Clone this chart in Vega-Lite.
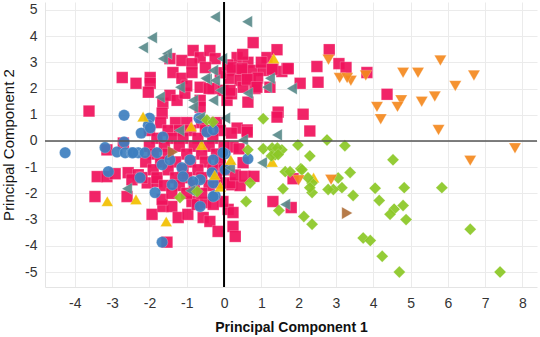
{
  "$schema": "https://vega.github.io/schema/vega-lite/v6.json",
  "width": 492,
  "height": 285,
  "autosize": "none",
  "padding": {"left": 45, "top": 2, "right": 3, "bottom": 50},
  "background": "white",
  "config": {
    "view": {"stroke": null},
    "font": "Liberation Sans",
    "axis": {
      "gridColor": "#ebebeb",
      "gridWidth": 1,
      "domainColor": "#e4e4e4",
      "ticks": false,
      "labelFontSize": 14,
      "labelColor": "#333333",
      "labelFont": "Liberation Sans",
      "titleFont": "Liberation Sans",
      "titleColor": "#111111",
      "labelFlush": false,
      "labelOverlap": false
    }
  },
  "datasets": {
    "pts": [
      {"x":-3.62,"y":1.14,"g":"B"},{"x":-2.73,"y":2.42,"g":"B"},{"x":-2.36,"y":2.2,"g":"B"},{"x":-1.98,"y":2.42,"g":"B"},{"x":-1.98,"y":2.2,"g":"B"},{"x":-2.03,"y":1.86,"g":"B"},{"x":-1.64,"y":1.44,"g":"B"},{"x":-1.45,"y":1.74,"g":"B"},{"x":-1.26,"y":1.55,"g":"B"},{"x":-1.05,"y":1.82,"g":"B"},{"x":-1.37,"y":2.61,"g":"B"},{"x":-1.13,"y":2.39,"g":"B"},{"x":-1.45,"y":3.14,"g":"B"},{"x":-1.13,"y":3.07,"g":"B"},{"x":-0.83,"y":3.45,"g":"B"},{"x":-0.64,"y":3.18,"g":"B"},{"x":-0.38,"y":3.45,"g":"B"},{"x":-0.24,"y":3.14,"g":"B"},{"x":-0.86,"y":2.95,"g":"B"},{"x":-0.86,"y":2.61,"g":"B"},{"x":-0.64,"y":2.05,"g":"B"},{"x":-0.29,"y":2.0,"g":"B"},{"x":-0.03,"y":1.93,"g":"B"},{"x":0.08,"y":1.55,"g":"B"},{"x":-0.64,"y":1.55,"g":"B"},{"x":-0.64,"y":1.29,"g":"B"},{"x":0.78,"y":3.75,"g":"B"},{"x":0.35,"y":3.18,"g":"B"},{"x":0.64,"y":3.0,"g":"B"},{"x":0.24,"y":2.69,"g":"B"},{"x":0.51,"y":2.69,"g":"B"},{"x":0.78,"y":2.69,"g":"B"},{"x":1.05,"y":2.69,"g":"B"},{"x":0.16,"y":2.39,"g":"B"},{"x":0.43,"y":2.31,"g":"B"},{"x":0.7,"y":2.31,"g":"B"},{"x":0.51,"y":2.05,"g":"B"},{"x":0.83,"y":2.0,"g":"B"},{"x":0.64,"y":1.48,"g":"B"},{"x":1.15,"y":3.18,"g":"B"},{"x":0.35,"y":0.49,"g":"B"},{"x":0.62,"y":0.42,"g":"B"},{"x":0.24,"y":-0.23,"g":"B"},{"x":0.51,"y":-0.83,"g":"B"},{"x":-2.7,"y":-0.08,"g":"B"},{"x":-3.14,"y":-0.34,"g":"B"},{"x":-1.66,"y":1.06,"g":"B"},{"x":1.42,"y":3.48,"g":"B"},{"x":2.82,"y":3.48,"g":"B"},{"x":1.31,"y":2.76,"g":"B"},{"x":1.55,"y":2.65,"g":"B"},{"x":1.69,"y":2.76,"g":"B"},{"x":2.49,"y":2.84,"g":"B"},{"x":3.08,"y":2.95,"g":"B"},{"x":3.27,"y":2.8,"g":"B"},{"x":3.83,"y":2.61,"g":"B"},{"x":2.04,"y":2.2,"g":"B"},{"x":2.52,"y":2.24,"g":"B"},{"x":1.23,"y":2.05,"g":"B"},{"x":4.37,"y":1.78,"g":"B"},{"x":1.45,"y":1.1,"g":"B"},{"x":1.42,"y":0.91,"g":"B"},{"x":2.12,"y":1.02,"g":"B"},{"x":2.3,"y":0.38,"g":"B"},{"x":1.85,"y":-1.44,"g":"B"},{"x":1.31,"y":-2.31,"g":"B"},{"x":1.8,"y":-2.54,"g":"B"},{"x":0.62,"y":0.34,"g":"B"},{"x":0.21,"y":-1.67,"g":"B"},{"x":0.43,"y":-1.7,"g":"B"},{"x":0.11,"y":-2.61,"g":"B"},{"x":0.24,"y":-2.73,"g":"B"},{"x":0.24,"y":-3.26,"g":"B"},{"x":0.3,"y":-3.64,"g":"B"},{"x":-3.4,"y":-1.36,"g":"B"},{"x":-3.14,"y":-1.36,"g":"B"},{"x":-2.92,"y":-1.25,"g":"B"},{"x":-3.46,"y":-2.12,"g":"B"},{"x":-2.6,"y":-2.12,"g":"B"},{"x":-2.57,"y":-1.21,"g":"B"},{"x":-2.3,"y":-1.29,"g":"B"},{"x":-2.47,"y":-1.48,"g":"B"},{"x":-1.93,"y":-2.8,"g":"B"},{"x":-1.64,"y":-2.5,"g":"B"},{"x":-1.4,"y":-2.5,"g":"B"},{"x":-1.66,"y":-2.23,"g":"B"},{"x":-1.23,"y":-2.92,"g":"B"},{"x":-0.97,"y":-2.8,"g":"B"},{"x":-1.53,"y":-3.86,"g":"B"},{"x":-0.56,"y":-2.92,"g":"B"},{"x":-0.38,"y":-3.07,"g":"B"},{"x":-0.16,"y":-3.45,"g":"B"},{"x":-0.03,"y":-2.31,"g":"B"},{"x":-0.86,"y":-2.31,"g":"B"},{"x":-0.72,"y":-2.42,"g":"B"},{"x":-0.5,"y":-2.35,"g":"B"},{"x":-0.29,"y":-2.42,"g":"B"},{"x":0.16,"y":-1.6,"g":"B"},{"x":-0.1,"y":-1.6,"g":"B"},{"x":-2.06,"y":-1.6,"g":"B"},{"x":-1.8,"y":-1.55,"g":"B"},
      {"x":-1.7,"y":0.7,"g":"B"},{"x":-1.3,"y":0.7,"g":"B"},{"x":-1.0,"y":0.7,"g":"B"},{"x":-0.6,"y":0.7,"g":"B"},{"x":-0.2,"y":0.7,"g":"B"},
      {"x":-2.0,"y":0.4,"g":"B"},{"x":-1.5,"y":0.4,"g":"B"},{"x":-1.2,"y":0.4,"g":"B"},{"x":-0.9,"y":0.4,"g":"B"},{"x":-0.5,"y":0.4,"g":"B"},{"x":-0.1,"y":0.4,"g":"B"},
      {"x":-1.8,"y":0.1,"g":"B"},{"x":-1.4,"y":0.1,"g":"B"},{"x":-1.1,"y":0.1,"g":"B"},{"x":-0.7,"y":0.1,"g":"B"},{"x":-0.3,"y":0.1,"g":"B"},
      {"x":-2.0,"y":-0.2,"g":"B"},{"x":-1.6,"y":-0.2,"g":"B"},{"x":-1.2,"y":-0.2,"g":"B"},{"x":-0.8,"y":-0.2,"g":"B"},{"x":-0.4,"y":-0.2,"g":"B"},{"x":0.0,"y":-0.2,"g":"B"},
      {"x":-1.9,"y":-0.5,"g":"B"},{"x":-1.5,"y":-0.5,"g":"B"},{"x":-1.0,"y":-0.5,"g":"B"},{"x":-0.6,"y":-0.5,"g":"B"},{"x":-0.2,"y":-0.5,"g":"B"},
      {"x":-2.1,"y":-0.8,"g":"B"},{"x":-1.7,"y":-0.8,"g":"B"},{"x":-1.3,"y":-0.8,"g":"B"},{"x":-0.9,"y":-0.8,"g":"B"},{"x":-0.5,"y":-0.8,"g":"B"},{"x":-0.1,"y":-0.8,"g":"B"},
      {"x":-1.9,"y":-1.1,"g":"B"},{"x":-1.5,"y":-1.1,"g":"B"},{"x":-1.1,"y":-1.1,"g":"B"},{"x":-0.7,"y":-1.1,"g":"B"},{"x":-0.3,"y":-1.1,"g":"B"},{"x":0.0,"y":-1.1,"g":"B"},
      {"x":-2.2,"y":-1.4,"g":"B"},{"x":-1.8,"y":-1.4,"g":"B"},{"x":-1.3,"y":-1.4,"g":"B"},{"x":-1.0,"y":-1.4,"g":"B"},{"x":-0.6,"y":-1.4,"g":"B"},{"x":-0.2,"y":-1.4,"g":"B"},
      {"x":-1.6,"y":-1.7,"g":"B"},{"x":-1.2,"y":-1.7,"g":"B"},{"x":-0.8,"y":-1.7,"g":"B"},{"x":-0.4,"y":-1.7,"g":"B"},
      {"x":-1.4,"y":-2.0,"g":"B"},{"x":-1.0,"y":-2.0,"g":"B"},{"x":-0.6,"y":-2.0,"g":"B"},
      {"x":-0.5,"y":2.8,"g":"B"},{"x":-0.1,"y":2.6,"g":"B"},{"x":0.1,"y":2.9,"g":"B"},{"x":0.9,"y":2.4,"g":"B"},{"x":1.0,"y":3.0,"g":"B"},{"x":0.5,"y":3.3,"g":"B"},{"x":-1.0,"y":2.1,"g":"B"},{"x":-0.4,"y":2.0,"g":"B"},{"x":0.2,"y":1.8,"g":"B"},{"x":0.21,"y":2.8,"g":"B"},{"x":0.48,"y":2.76,"g":"B"},{"x":1.29,"y":2.73,"g":"B"},{"x":1.72,"y":2.76,"g":"B"},{"x":0.62,"y":2.35,"g":"B"},{"x":0.88,"y":2.05,"g":"B"},{"x":0.16,"y":1.93,"g":"B"},{"x":0.3,"y":-1.3,"g":"B"},{"x":0.55,"y":-1.35,"g":"B"},{"x":0.8,"y":-1.35,"g":"B"},{"x":0.4,"y":-0.3,"g":"B"},{"x":0.2,"y":0.3,"g":"B"},
      {"x":-4.26,"y":-0.45,"g":"A"},{"x":-2.68,"y":0.98,"g":"A"},{"x":-2.0,"y":0.87,"g":"A"},{"x":-2.03,"y":0.6,"g":"A"},{"x":-2.22,"y":0.3,"g":"A"},{"x":-2.68,"y":-0.04,"g":"A"},{"x":-3.19,"y":-0.25,"g":"A"},{"x":-2.87,"y":-0.42,"g":"A"},{"x":-2.65,"y":-0.45,"g":"A"},{"x":-2.47,"y":-0.45,"g":"A"},{"x":-2.3,"y":-0.45,"g":"A"},{"x":-1.64,"y":0.15,"g":"A"},{"x":-0.67,"y":0.87,"g":"A"},{"x":0.64,"y":-0.68,"g":"A"},{"x":0.03,"y":-0.49,"g":"A"},{"x":-3.1,"y":-1.17,"g":"A"},{"x":-2.25,"y":-1.4,"g":"A"},{"x":-2.12,"y":-0.45,"g":"A"},{"x":-1.66,"y":-0.91,"g":"A"},{"x":-1.45,"y":-0.72,"g":"A"},{"x":-1.13,"y":-1.02,"g":"A"},{"x":-1.1,"y":-1.36,"g":"A"},{"x":-1.8,"y":-0.45,"g":"A"},{"x":-0.91,"y":-0.72,"g":"A"},{"x":-0.64,"y":-1.48,"g":"A"},{"x":-0.32,"y":-1.21,"g":"A"},{"x":-0.29,"y":-0.72,"g":"A"},{"x":-0.46,"y":0.34,"g":"A"},{"x":-1.39,"y":-1.67,"g":"A"},{"x":-1.85,"y":-1.97,"g":"A"},{"x":-0.64,"y":-2.5,"g":"A"},{"x":-0.03,"y":-0.45,"g":"A"},{"x":0.03,"y":-1.1,"g":"A"},{"x":-0.29,"y":-1.6,"g":"A"},{"x":-0.24,"y":-2.08,"g":"A"},{"x":-0.29,"y":0.42,"g":"A"},{"x":-1.66,"y":-3.86,"g":"A"},{"x":-0.83,"y":-1.55,"g":"A"},{"x":-0.29,"y":-2.12,"g":"A"},{"x":-1.98,"y":0.5,"g":"A"},{"x":-2.44,"y":-0.45,"g":"A"},
      {"x":-0.24,"y":4.73,"g":"D"},{"x":0.62,"y":4.55,"g":"D"},{"x":-1.93,"y":3.94,"g":"D"},{"x":-2.17,"y":3.56,"g":"D"},{"x":-1.53,"y":3.33,"g":"D"},{"x":-1.64,"y":3.14,"g":"D"},{"x":-0.05,"y":3.14,"g":"D"},{"x":-0.29,"y":2.69,"g":"D"},{"x":-0.46,"y":2.35,"g":"D"},{"x":-0.24,"y":2.31,"g":"D"},{"x":-1.18,"y":2.05,"g":"D"},{"x":-1.72,"y":1.67,"g":"D"},{"x":-0.83,"y":1.55,"g":"D"},{"x":-0.83,"y":1.29,"g":"D"},{"x":-0.29,"y":1.55,"g":"D"},{"x":-0.1,"y":1.93,"g":"D"},{"x":0.03,"y":0.87,"g":"D"},{"x":1.15,"y":2.05,"g":"D"},{"x":0.64,"y":1.82,"g":"D"},{"x":0.51,"y":0.04,"g":"D"},{"x":1.02,"y":-0.83,"g":"D"},{"x":1.82,"y":2.0,"g":"D"},{"x":1.42,"y":0.23,"g":"D"},{"x":1.23,"y":2.39,"g":"D"},{"x":1.64,"y":-2.42,"g":"D"},{"x":-2.6,"y":-1.82,"g":"D"},{"x":0.16,"y":-1.02,"g":"D"},{"x":-0.64,"y":0.9,"g":"D"},{"x":-0.5,"y":2.39,"g":"D"},{"x":-1.2,"y":0.4,"g":"D"},{"x":-0.9,"y":-1.9,"g":"D"},
      {"x":-3.13,"y":-2.3,"g":"C"},{"x":-2.36,"y":-2.23,"g":"C"},{"x":-1.55,"y":-3.07,"g":"C"},{"x":-2.17,"y":0.93,"g":"C"},{"x":-0.88,"y":0.55,"g":"C"},{"x":0.18,"y":-0.72,"g":"C"},{"x":1.29,"y":-0.8,"g":"C"},{"x":1.33,"y":3.15,"g":"C"},{"x":2.4,"y":-1.4,"g":"C"},{"x":-0.1,"y":-1.74,"g":"C"},{"x":-0.6,"y":-0.15,"g":"C"},{"x":-0.25,"y":-1.3,"g":"C"},
      {"x":4.53,"y":-0.72,"g":"E"},{"x":5.84,"y":-1.78,"g":"E"},{"x":6.6,"y":-3.37,"g":"E"},{"x":7.4,"y":-5.0,"g":"E"},{"x":4.7,"y":-5.0,"g":"E"},{"x":4.24,"y":-4.4,"g":"E"},{"x":3.73,"y":-3.7,"g":"E"},{"x":3.92,"y":-3.8,"g":"E"},{"x":4.88,"y":-3.0,"g":"E"},{"x":4.8,"y":-2.46,"g":"E"},{"x":4.56,"y":-2.6,"g":"E"},{"x":4.45,"y":-2.8,"g":"E"},{"x":4.16,"y":-2.27,"g":"E"},{"x":4.05,"y":-1.8,"g":"E"},{"x":4.83,"y":-1.78,"g":"E"},{"x":3.46,"y":-2.08,"g":"E"},{"x":3.38,"y":-1.2,"g":"E"},{"x":3.06,"y":-1.41,"g":"E"},{"x":3.16,"y":-1.78,"g":"E"},{"x":2.93,"y":-1.85,"g":"E"},{"x":2.79,"y":-1.85,"g":"E"},{"x":2.36,"y":-1.6,"g":"E"},{"x":2.36,"y":-1.97,"g":"E"},{"x":2.3,"y":-1.78,"g":"E"},{"x":2.25,"y":-1.4,"g":"E"},{"x":2.06,"y":-1.06,"g":"E"},{"x":1.64,"y":-1.17,"g":"E"},{"x":1.77,"y":-1.17,"g":"E"},{"x":1.58,"y":-1.82,"g":"E"},{"x":1.47,"y":-2.65,"g":"E"},{"x":2.14,"y":-2.88,"g":"E"},{"x":2.36,"y":-3.18,"g":"E"},{"x":2.3,"y":-0.57,"g":"E"},{"x":2.76,"y":0.04,"g":"E"},{"x":3.24,"y":-0.18,"g":"E"},{"x":1.98,"y":-0.15,"g":"E"},{"x":1.55,"y":-0.34,"g":"E"},{"x":1.37,"y":-0.34,"g":"E"},{"x":1.37,"y":-0.53,"g":"E"},{"x":1.05,"y":0.85,"g":"E"},{"x":0.64,"y":-0.34,"g":"E"},{"x":1.05,"y":-0.3,"g":"E"},{"x":1.29,"y":-0.27,"g":"E"},{"x":1.43,"y":-0.27,"g":"E"},{"x":1.27,"y":-0.57,"g":"E"},{"x":1.45,"y":-0.52,"g":"E"},{"x":2.09,"y":-1.1,"g":"E"},{"x":0.7,"y":-1.6,"g":"E"},{"x":0.59,"y":-2.31,"g":"E"},{"x":-0.46,"y":0.8,"g":"E"},{"x":-0.3,"y":0.72,"g":"E"},{"x":-1.18,"y":-2.16,"g":"E"},{"x":-0.72,"y":-1.93,"g":"E"},
      {"x":2.8,"y":3.1,"g":"F"},{"x":5.8,"y":3.07,"g":"F"},{"x":3.1,"y":2.4,"g":"F"},{"x":3.4,"y":2.3,"g":"F"},{"x":3.3,"y":2.4,"g":"F"},{"x":3.8,"y":2.5,"g":"F"},{"x":4.8,"y":2.6,"g":"F"},{"x":5.2,"y":2.6,"g":"F"},{"x":6.7,"y":2.5,"g":"F"},{"x":6.2,"y":2.1,"g":"F"},{"x":5.65,"y":1.7,"g":"F"},{"x":5.3,"y":1.5,"g":"F"},{"x":4.75,"y":1.55,"g":"F"},{"x":4.65,"y":1.3,"g":"F"},{"x":4.1,"y":1.3,"g":"F"},{"x":4.2,"y":0.83,"g":"F"},{"x":5.75,"y":0.42,"g":"F"},{"x":7.8,"y":-0.28,"g":"F"},{"x":6.6,"y":-0.75,"g":"F"},{"x":2.87,"y":-1.48,"g":"F"},{"x":2.0,"y":-1.5,"g":"F"},
      {"x":3.3,"y":-2.75,"g":"G"},{"x":-1.37,"y":-0.42,"g":"G"}
    ],
    "zero": [{"x": 0, "y": 0}]
  },
  "encoding": {
    "x": {"field": "x", "type": "quantitative", "scale": {"domain": [-4.8, 8.39], "nice": false, "zero": false},
          "axis": {"values": [-4,-3,-2,-1,0,1,2,3,4,5,6,7,8], "title": "Principal Component 1", "titleFontSize": 14, "titleFontWeight": "bold", "labelPadding": 9, "titlePadding": 10, "labelExpr": "replace(datum.label, '\u2212', '-')"}},
    "y": {"field": "y", "type": "quantitative", "scale": {"domain": [-5.57, 5.3], "nice": false, "zero": false},
          "axis": {"values": [-5,-4,-3,-2,-1,0,1,2,3,4,5], "title": "Principal Component 2", "titleFontSize": 15, "titleFontWeight": "normal", "labelPadding": 8, "titlePadding": 8, "labelExpr": "replace(datum.label, '\u2212', '-')"}}
  },
  "layer": [
    {
      "data": {"name": "pts"},
      "mark": {"type": "point", "filled": true, "opacity": 0.92, "stroke": "white", "strokeWidth": 0.4, "strokeOpacity": 0.6},
      "encoding": {
        "shape": {"field": "g", "type": "nominal", "legend": null,
                  "scale": {"domain": ["A","B","C","D","E","F","G"], "range": ["circle","square","triangle-up","triangle-left","diamond","triangle-down","triangle-right"]}},
        "color": {"field": "g", "type": "nominal", "legend": null,
                  "scale": {"domain": ["A","B","C","D","E","F","G"], "range": ["#3d7fc0","#f0125c","#f2c000","#5a8c8c","#8cc826","#f5891f","#b0703a"]}},
        "size": {"field": "g", "type": "nominal", "legend": null,
                 "scale": {"domain": ["A","B","C","D","E","F","G"], "range": [130,150,110,110,110,110,110]}}
      }
    },
    {
      "data": {"name": "zero"},
      "mark": {"type": "rule", "color": "#555555", "strokeWidth": 1.5},
      "encoding": {"x": null}
    },
    {
      "data": {"name": "zero"},
      "mark": {"type": "rule", "color": "#000000", "strokeWidth": 2},
      "encoding": {"y": null}
    }
  ]
}
